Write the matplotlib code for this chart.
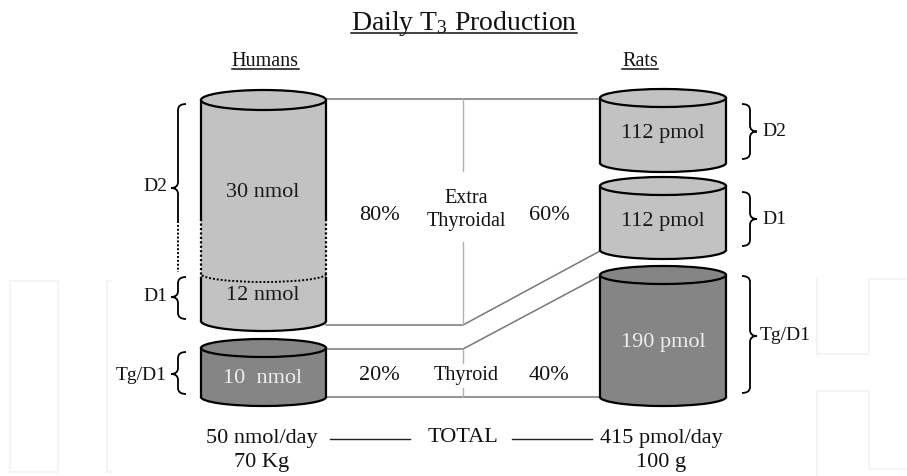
import matplotlib
matplotlib.use("Agg")
import matplotlib.pyplot as plt
from matplotlib.patches import Ellipse, Rectangle, Arc
from matplotlib.path import Path
import matplotlib.patches as mpatches

plt.rcParams["font.family"] = ["Liberation Serif", "DejaVu Serif"]
plt.rcParams["mathtext.fontset"] = "custom"
plt.rcParams["mathtext.rm"] = "Liberation Serif"
plt.rcParams["mathtext.it"] = "Liberation Serif:italic"

TITLE = r"Daily T$_3$ Production"
GROUPS = ["Humans", "Rats"]
HUMAN_LABELS = ["D2", "D1", "Tg/D1"]
HUMAN_AMOUNTS = ["30 nmol", "12 nmol", "10  nmol"]
RAT_LABELS = ["D2", "D1", "Tg/D1"]
RAT_AMOUNTS = ["112 pmol", "112 pmol", "190 pmol"]
SOURCES = ["Extra\nThyroidal", "Thyroid"]
HUMAN_PCT = ["80%", "20%"]
RAT_PCT = ["60%", "40%"]
TOTALS = ["50 nmol/day", "415 pmol/day"]
BODY = ["70 Kg", "100 g"]
TOTAL_WORD = "TOTAL"

LIGHT = "#c2c2c2"
DARK = "#858585"

fig = plt.figure(figsize=(9.07, 4.77), dpi=100)
ax = fig.add_axes([0, 0, 1, 1])
ax.set_xlim(0, 907)
ax.set_ylim(477, 0)
ax.axis("off")


def cylinder(x0, x1, ytop, ybot, fc, ry=9, dotted=None):
    cx = (x0 + x1) / 2
    w = x1 - x0
    ax.add_patch(Ellipse((cx, ybot), w, 2 * ry, fc=fc, ec="black", lw=1.6, zorder=2))
    ax.add_patch(Rectangle((x0, ytop), w, ybot - ytop, fc=fc, ec="none", zorder=3))
    if dotted is None:
        for x in (x0, x1):
            ax.plot([x, x], [ytop, ybot], color="black", lw=1.6, zorder=4)
    else:
        d0, d1 = dotted
        for x in (x0, x1):
            ax.plot([x, x], [ytop, d0], color="black", lw=1.6, zorder=4)
            ax.plot([x, x], [d0, d1], color="black", lw=1.6, ls=(0, (1, 1)), zorder=4)
            ax.plot([x, x], [d1, ybot], color="black", lw=1.6, zorder=4)
        ax.add_patch(Arc((cx, d1 - 4), w, 2 * ry - 4, theta1=0, theta2=180,
                         color="black", lw=1.4, ls=(0, (1, 1)), zorder=4))
    ax.add_patch(Ellipse((cx, ytop), w, 2 * ry, fc=fc, ec="black", lw=1.6, zorder=5))


def brace(x, y0, y1, d, ym=None, hook=8, tip=7, dotted_to=None):
    # d=-1 -> '{' with tip to the left, d=+1 -> '}' with tip to the right
    if ym is None:
        ym = (y0 + y1) / 2
    h = -d * hook
    r = 6
    verts = [(x + h, y0), (x, y0), (x, y0 + r),
             (x, ym - r), (x, ym), (x + d * tip, ym),
             (x, ym), (x, ym + r)]
    codes = [Path.MOVETO, Path.CURVE3, Path.CURVE3,
             Path.LINETO, Path.CURVE3, Path.CURVE3,
             Path.CURVE3, Path.CURVE3]
    if dotted_to is not None:
        verts += [(x, y1)]
        codes += [Path.LINETO]
        ax.plot([x, x], [y1, dotted_to], color="black", lw=1.4, ls=(0, (1, 1)))
    else:
        verts += [(x, y1 - r), (x, y1), (x + h, y1)]
        codes += [Path.LINETO, Path.CURVE3, Path.CURVE3]
    ax.add_patch(mpatches.PathPatch(Path(verts, codes), fc="none", ec="black", lw=1.3))


# faint background watermark
wm = dict(color="#f3f3f3", lw=1.3, zorder=0)
ax.plot([10, 58, 58, 10, 10], [282, 282, 473, 473, 282], **wm)
ax.plot([111, 107, 107, 111], [282, 282, 473, 473], **wm)
ax.plot([817, 869, 869, 907], [355, 355, 280, 280], **wm)
ax.plot([817, 817], [280, 355], **wm)
ax.plot([817, 817], [477, 392], **wm)
ax.plot([817, 869, 869, 907], [392, 392, 470, 470], **wm)

# connecting lines
lc = dict(color="#777777", lw=1.1, zorder=1)
ax.plot([326, 600], [100, 100], **lc)
ax.plot([326, 463, 600], [326, 326, 252], **lc)
ax.plot([326, 463, 600], [350, 350, 277], **lc)
ax.plot([326, 600], [398, 398], **lc)
vc = dict(color="#b0b0b0", lw=1.0, zorder=1)
for a, b in [(100, 172), (243, 326), (350, 364), (389, 398)]:
    ax.plot([463, 463], [a, b], **vc)

# cylinders
cylinder(201, 326, 101, 322, LIGHT, ry=10, dotted=(220, 279))
cylinder(201, 326, 349, 398, DARK, ry=9)
cylinder(600, 726, 99, 164, LIGHT, ry=9)
cylinder(600, 726, 187, 251, LIGHT, ry=9)
cylinder(600, 726, 276, 398, DARK, ry=9)

tk = dict(ha="center", va="center", fontsize=16, zorder=6)
ax.text(263, 193, HUMAN_AMOUNTS[0], color="#1a1a1a", **tk)
ax.text(263, 296, HUMAN_AMOUNTS[1], color="#1a1a1a", **tk)
ax.text(263, 379, HUMAN_AMOUNTS[2], color="#eeeeee", **tk)
ax.text(663, 134, RAT_AMOUNTS[0], color="#1a1a1a", **tk)
ax.text(663, 222, RAT_AMOUNTS[1], color="#1a1a1a", **tk)
ax.text(663, 343, RAT_AMOUNTS[2], color="#eeeeee", **tk)

# braces and labels
brace(178, 105, 222, -1, ym=189, dotted_to=273)
brace(178, 278, 320, -1, ym=298)
brace(178, 353, 395, -1, ym=375)
brace(750, 105, 160, +1)
brace(750, 193, 247, +1)
brace(750, 277, 394, +1, ym=337)
lk = dict(va="center", fontsize=14, color="#111111")
ax.text(167, 187, HUMAN_LABELS[0], ha="right", **lk)
ax.text(167, 297, HUMAN_LABELS[1], ha="right", **lk)
ax.text(167, 376, HUMAN_LABELS[2], ha="right", **lk)
ax.text(762, 132, RAT_LABELS[0], ha="left", **lk)
ax.text(762, 220, RAT_LABELS[1], ha="left", **lk)
ax.text(760, 336, RAT_LABELS[2], ha="left", **lk)

# percentages and sources
pk = dict(ha="center", va="center", fontsize=16, color="#111111")
ax.text(379, 216, HUMAN_PCT[0], **pk)
ax.text(379, 376, HUMAN_PCT[1], **pk)
ax.text(549, 216, RAT_PCT[0], **pk)
ax.text(549, 376, RAT_PCT[1], **pk)
ax.text(466, 210, SOURCES[0], ha="center", va="center", fontsize=14.5,
        linespacing=1.25, color="#111111")
ax.text(466, 376, SOURCES[1], ha="center", va="center", fontsize=14.5, color="#111111")

# totals
ax.text(262, 439, TOTALS[0], **pk)
ax.text(661, 439, TOTALS[1], **pk)
ax.text(262, 463, BODY[0], ha="center", va="center", fontsize=16, color="#111111")
ax.text(661, 463, BODY[1], ha="center", va="center", fontsize=16, color="#111111")
ax.text(463, 438, TOTAL_WORD, **pk)
ax.plot([330, 410], [440, 440], color="#222222", lw=1.0)
ax.plot([512, 592], [440, 440], color="#222222", lw=1.0)

# underlined headings
heads = [ax.text(464, 30, TITLE, ha="center", va="baseline", fontsize=20, color="#111111"),
         ax.text(265, 66, GROUPS[0], ha="center", va="baseline", fontsize=14.5, color="#111111"),
         ax.text(640, 66, GROUPS[1], ha="center", va="baseline", fontsize=14.5, color="#111111")]
fig.canvas.draw()
renderer = fig.canvas.get_renderer()
inv = ax.transData.inverted()
for t, yu in zip(heads, [34, 70, 70]):
    bb = t.get_window_extent(renderer)
    xa = inv.transform((bb.x0, bb.y0))[0]
    xb = inv.transform((bb.x1, bb.y0))[0]
    ax.plot([xa, xb], [yu, yu], color="#111111", lw=1.1)

fig.savefig("out.png", dpi=100)
